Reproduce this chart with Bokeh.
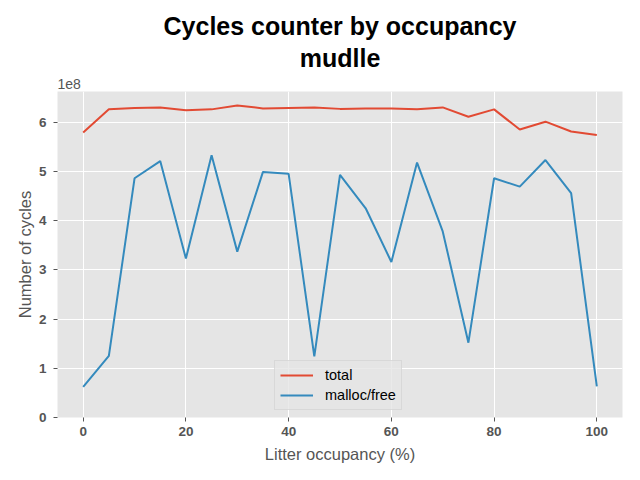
from bokeh.plotting import figure
from bokeh.models import Range1d, FixedTicker, CustomJSTickFormatter, Legend, LegendItem, Title
from bokeh.embed import file_html
from bokeh.resources import INLINE

occupancy = [0, 5, 10, 15, 20, 25, 30, 35, 40, 45, 50, 55, 60, 65, 70, 75, 80, 85, 90, 95, 100]
total = [5.79e8, 6.26e8, 6.29e8, 6.30e8, 6.24e8, 6.26e8, 6.34e8, 6.28e8, 6.29e8, 6.30e8, 6.27e8,
         6.28e8, 6.28e8, 6.26e8, 6.30e8, 6.11e8, 6.26e8, 5.85e8, 6.01e8, 5.81e8, 5.74e8]
malloc_free = [0.62e8, 1.25e8, 4.86e8, 5.21e8, 3.23e8, 5.33e8, 3.37e8, 4.99e8, 4.95e8, 1.24e8, 4.93e8,
               4.25e8, 3.16e8, 5.18e8, 3.78e8, 1.52e8, 4.86e8, 4.69e8, 5.23e8, 4.56e8, 0.63e8]
x_ticks = [0, 20, 40, 60, 80, 100]
y_ticks = [0, 1e8, 2e8, 3e8, 4e8, 5e8, 6e8]

FONT = "Liberation Sans"
GRAY = "#555555"

p = figure(width=640, height=480, output_backend="svg", toolbar_location=None,
           x_range=Range1d(-5, 105), y_range=Range1d(0, 6.623e8),
           min_border_left=57, min_border_right=18, min_border_top=91, min_border_bottom=63)
p.background_fill_color = "#E5E5E5"
p.border_fill_color = "white"
p.outline_line_color = None

r1 = p.line(occupancy, total, line_color="#E24A33", line_width=2)
r2 = p.line(occupancy, malloc_free, line_color="#348ABD", line_width=2)

p.xaxis.ticker = FixedTicker(ticks=x_ticks)
p.yaxis.ticker = FixedTicker(ticks=y_ticks)
p.yaxis.formatter = CustomJSTickFormatter(code="return (tick/1e8).toFixed(0);")
p.xgrid.ticker = FixedTicker(ticks=x_ticks)
p.ygrid.ticker = FixedTicker(ticks=y_ticks)
p.grid.grid_line_color = "white"
p.grid.grid_line_width = 1

for ax in (p.xaxis, p.yaxis):
    ax.axis_line_color = None
    ax.major_tick_line_color = GRAY
    ax.major_tick_out = 4
    ax.major_tick_in = 0
    ax.minor_tick_line_color = None
    ax.major_label_text_font = FONT
    ax.major_label_text_font_size = "13.5px"
    ax.major_label_text_font_style = "bold"
    ax.major_label_text_color = GRAY
    ax.axis_label_text_font = FONT
    ax.axis_label_text_font_size = "16.5px"
    ax.axis_label_text_font_style = "normal"
    ax.axis_label_text_color = GRAY

p.xaxis.axis_label = "Litter occupancy (%)"
p.yaxis.axis_label = "Number of cycles"
p.xaxis.major_label_standoff = 5
p.yaxis.major_label_standoff = 7
p.xaxis.axis_label_standoff = 6
p.yaxis.axis_label_standoff = 2

legend = Legend(items=[LegendItem(label="total", renderers=[r1]),
                       LegendItem(label="malloc/free", renderers=[r2])],
                location=(217, 7))
legend.label_text_font = FONT
legend.label_text_font_size = "14.5px"
legend.label_text_color = "black"
legend.glyph_width = 33
legend.glyph_height = 18
legend.label_height = 18
legend.spacing = 2
legend.padding = 5
legend.margin = 0
legend.label_standoff = 12
legend.background_fill_color = "#E5E5E5"
legend.background_fill_alpha = 0.8
legend.border_line_color = "#CCCCCC"
legend.border_line_width = 1
p.add_layout(legend, "center")

# main title is outermost; extra panels stack outward from the frame in order added
p.title.text = "Cycles counter by occupancy"
p.title.align = "center"
p.title.text_font = FONT
p.title.text_font_size = "25px"
p.title.text_font_style = "bold"
p.title.text_color = "black"
p.title.standoff = 0

p.add_layout(Title(text="1e8", align="left", text_font=FONT, text_font_size="14px",
                   text_font_style="normal", text_color=GRAY, standoff=5), "above")
p.add_layout(Title(text="mudlle", align="center", text_font=FONT, text_font_size="25px",
                   text_font_style="bold", text_color="black", standoff=5), "above")

open("out.html", "w").write(file_html(p, INLINE))
